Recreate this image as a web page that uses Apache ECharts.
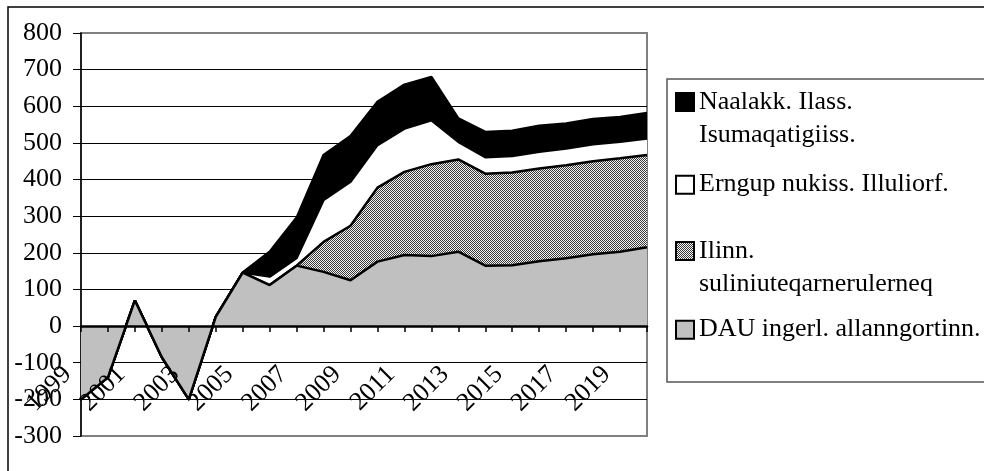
<!DOCTYPE html>
<html>
<head>
<meta charset="utf-8">
<script src="https://cdn.jsdelivr.net/npm/echarts@6/dist/echarts.min.js"></script>
<style>
html,body{margin:0;padding:0;background:#fff;}
#chart{width:984px;height:471px;}
</style>
</head>
<body>
<div id="chart"></div>
<script>
// ---- data ----
var years = ['1999','2000','2001','2002','2003','2004','2005','2006','2007','2008','2009','2010','2011','2012','2013','2014','2015','2016','2017','2018','2019','2020'];
var dauValues     = [-200,-140, 70,-85,-200, 25,146,112,165,148,125,176,194,191,203,165,166,177,185,196,203,215];
var ilinnValues   = [   0,   0,  0,  0,   0,  0,  0,  0,  0, 82,149,202,227,251,252,251,253,253,254,254,255,252];
var erngupValues  = [   0,   0,  0,  0,   0,  0,  0, 23, 21,114,120,116,118,120, 48, 45, 45, 46, 46, 46, 45, 45];
var naalakkValues = [   0,   0,  0,  0,   0,  0,  0, 68,110,123,125,118,120,118, 64, 69, 69, 71, 68, 69, 68, 70];
var seriesNames = ['DAU ingerl. allanngortinn.', 'Ilinn. suliniuteqarnerulerneq', 'Erngup nukiss. Illuliorf.', 'Naalakk. Ilass. Isumaqatigiiss.'];
var legendLabels = ['DAU ingerl. allanngortinn.', 'Ilinn.\nsuliniuteqarnerulerneq', 'Erngup nukiss. Illuliorf.', 'Naalakk. Ilass.\nIsumaqatigiiss.'];
var yTicks = {min: -300, max: 800, interval: 100};

// ---- hatch pattern ----
var pat = document.createElement('canvas');
pat.width = 2; pat.height = 2;
var pc = pat.getContext('2d');
pc.fillStyle = '#f4f4f4'; pc.fillRect(0,0,2,2);
pc.fillStyle = '#3a3a3a';
pc.fillRect(0, 0, 1, 1);
pc.fillRect(1, 1, 1, 1);
var hatch = {image: pat, repeat: 'repeat'};

var fills = ['#c0c0c0', hatch, '#ffffff', '#000000'];
var dataSets = [dauValues, ilinnValues, erngupValues, naalakkValues];
var FONT = 'Liberation Serif';
var LH = 33.3;

var series = dataSets.map(function (d, i) {
  return {
    name: seriesNames[i],
    type: 'line',
    stack: 'total',
    stackStrategy: 'all',
    data: d,
    symbol: 'none',
    z: 6 - i,
    lineStyle: {color: '#000', width: 2.5},
    itemStyle: {color: '#000'},
    areaStyle: {color: fills[i], opacity: 1}
  };
});

// legend: one component per item so vertical placement matches
var legendTops = [52, 168, 201, 313];
var legendOrder = [3, 2, 1, 0];
var legends = legendOrder.map(function (si, k) {
  var twoLines = legendLabels[si].indexOf('\n') >= 0;
  return {
    orient: 'vertical',
    left: 675,
    top: legendTops[k],
    padding: 0,
    selectedMode: false,
    itemWidth: 18,
    itemHeight: 18,
    data: [{
      name: seriesNames[si],
      icon: 'rect',
      itemStyle: {color: fills[si], borderColor: '#000', borderWidth: 2}
    }],
    formatter: function (n) { return legendLabels[seriesNames.indexOf(n)]; },
    textStyle: {
      fontFamily: FONT, fontSize: 26, color: '#000', lineHeight: LH,
      padding: twoLines ? [LH, 0, 0, 0] : 0,
      rich: {r: {}}
    }
  };
});

var chart = echarts.init(document.getElementById('chart'), null, {renderer: 'canvas'});
chart.setOption({
  animation: false,
  backgroundColor: '#fff',
  grid: {
    left: 81, right: 337, top: 33, bottom: 35,
    show: true, borderColor: '#808080', borderWidth: 2, backgroundColor: '#fff',
    containLabel: false, outerBoundsMode: 'none'
  },
  graphic: [
    {type: 'rect', shape: {x: 8, y: 7, width: 1100, height: 600}, style: {fill: 'none', stroke: '#000', lineWidth: 1.5}, silent: true, z: 0},
    {type: 'rect', shape: {x: 667, y: 79, width: 400, height: 303}, style: {fill: 'none', stroke: '#555', lineWidth: 1.5}, silent: true, z: 0}
  ],
  legend: legends,
  xAxis: {
    type: 'category',
    data: years,
    boundaryGap: false,
    z: 10,
    axisLine: {show: true, onZero: true, lineStyle: {color: '#000', width: 2.5}},
    axisTick: {show: true, interval: 0, length: 6, lineStyle: {color: '#000', width: 1.5}},
    axisLabel: {
      show: true,
      interval: 1, rotate: 45, margin: -79, padding: [0, 19, 0, 0],
      fontFamily: FONT, fontSize: 26, color: '#000'
    },
    splitLine: {show: false}
  },
  yAxis: {
    type: 'value',
    min: yTicks.min, max: yTicks.max, interval: yTicks.interval,
    axisLine: {show: true, lineStyle: {color: '#000', width: 1.5}},
    axisTick: {show: true, length: 8, lineStyle: {color: '#000', width: 1}},
    axisLabel: {margin: 19, fontFamily: FONT, fontSize: 26, color: '#000'},
    splitLine: {show: true, showMinLine: false, showMaxLine: false, lineStyle: {color: '#000', width: 1}}
  },
  series: series
});
</script>
</body>
</html>
